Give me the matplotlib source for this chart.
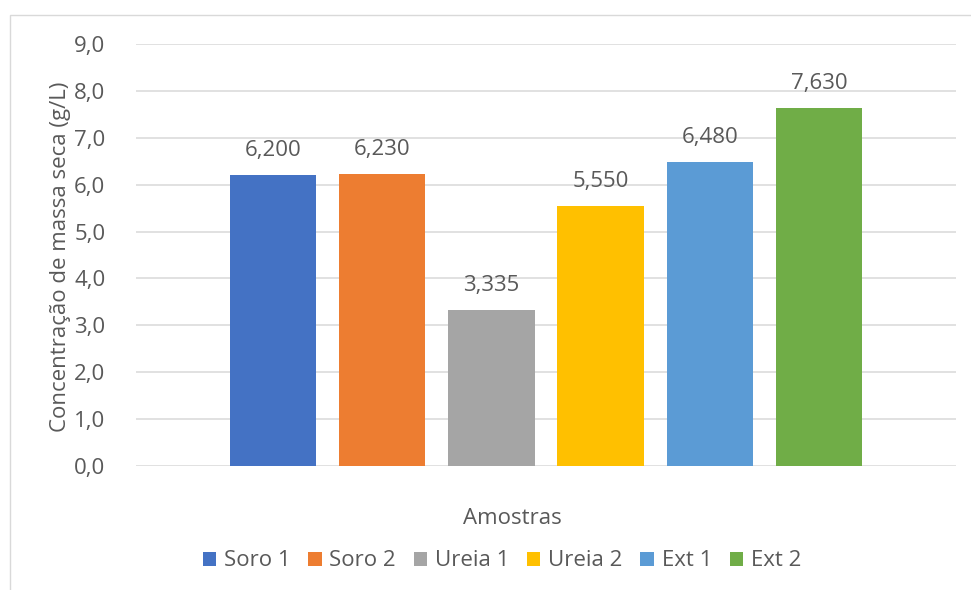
import matplotlib
matplotlib.use("Agg")
import matplotlib.pyplot as plt
from matplotlib.patches import Patch, Rectangle
from matplotlib.ticker import FuncFormatter
import numpy as np

# Amostras e concentrações de massa seca (g/L)
samples = ["Soro 1", "Soro 2", "Ureia 1", "Ureia 2", "Ext 1", "Ext 2"]
values = [6.200, 6.230, 3.335, 5.550, 6.480, 7.630]
colors = ["#4472C4", "#ED7D31", "#A5A5A5", "#FFC000", "#5B9BD5", "#70AD47"]
yticks = [0, 1, 2, 3, 4, 5, 6, 7, 8, 9]

text_color = "#595959"
grid_color = "#D9D9D9"
plt.rcParams["font.family"] = ["Open Sans", "DejaVu Sans"]
FS = 16

W, H = 971, 590
fig = plt.figure(figsize=(W / 100, H / 100), dpi=100)
ax = fig.add_axes([136 / W, 1 - 466 / H, 820 / W, 422 / H])

x = np.arange(len(samples))
for xi, v, c, name in zip(x, values, colors, samples):
    ax.bar(xi, v, width=0.79, color=c, label=name, zorder=3)
    ax.text(xi, v + 0.3, f"{v:.3f}".replace(".", ","), ha="center", va="bottom",
            fontsize=FS, color=text_color)

for t in yticks:
    ax.axhline(t, color=grid_color, linewidth=1.1, zorder=1)

ax.set_xlim(-1.255, len(samples) - 1 + 1.255)
ax.set_ylim(0, 9)
ax.set_yticks(yticks)
ax.yaxis.set_major_formatter(FuncFormatter(lambda v, p: f"{v:.1f}".replace(".", ",")))
ax.set_xticks([])
ax.tick_params(axis="y", length=0, pad=22, labelsize=FS, labelcolor=text_color)
for s in ax.spines.values():
    s.set_visible(False)

fig.text(61 / W, 1 - 257 / H, "Concentração de massa seca (g/L)", rotation=90,
         ha="center", va="center", fontsize=FS, color=text_color)
fig.text(512 / W, 1 - 519 / H, "Amostras", ha="center", va="center",
         fontsize=FS, color=text_color)

handles = [Patch(facecolor=c, edgecolor="none") for c in colors]
fig.legend(handles, samples, loc="center", ncol=6,
           bbox_to_anchor=(502 / W, 1 - 561 / H), frameon=False,
           fontsize=FS, labelcolor=text_color, handlelength=0.6,
           handleheight=0.6, handletextpad=0.35, columnspacing=0.8)

# chart frame
fig.patches.append(Rectangle((9.5 / W, -0.1), 1.2, 1.1 - 15.5 / H,
                             transform=fig.transFigure, fill=False,
                             edgecolor=grid_color, linewidth=1.0))

fig.savefig("out.png", dpi=100)
